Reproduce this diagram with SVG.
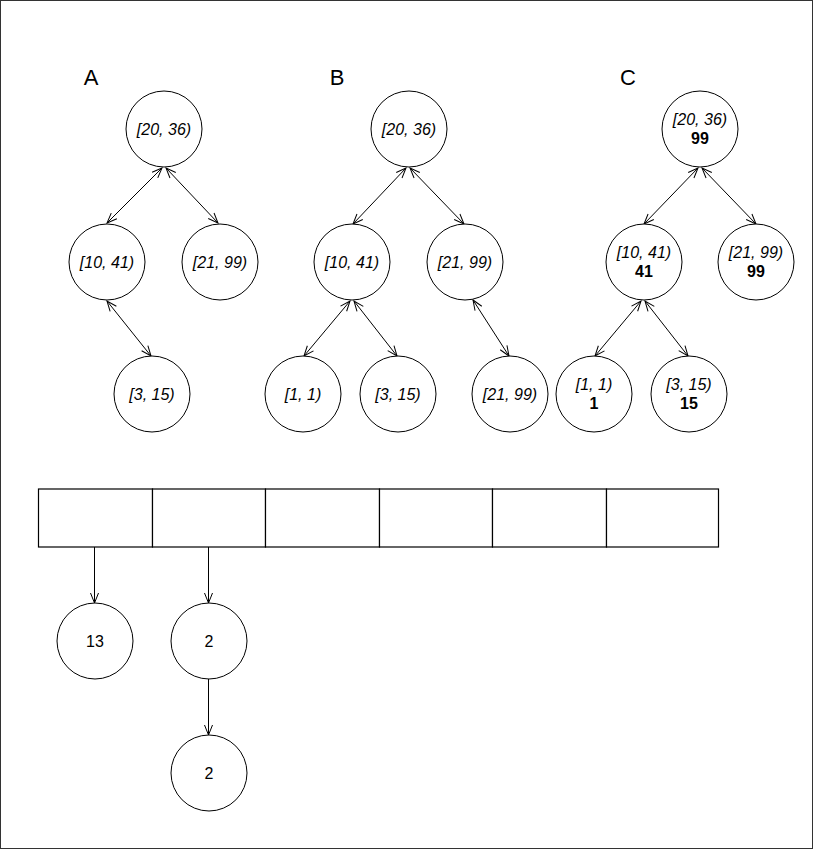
<svg xmlns="http://www.w3.org/2000/svg" width="814" height="849" viewBox="0 0 814 849">
  <style>
    .node { fill: #fff; stroke: #000; stroke-width: 1; }
    .iv { font-family: "Liberation Sans", Arial, sans-serif; font-style: italic; font-size: 16px; text-anchor: middle; fill: #000; }
    .bv { font-family: "Liberation Sans", Arial, sans-serif; font-weight: bold; font-size: 16px; text-anchor: middle; fill: #000; }
    .nv { font-family: "Liberation Sans", Arial, sans-serif; font-size: 16px; text-anchor: middle; fill: #000; }
    .title { font-family: "Liberation Sans", Arial, sans-serif; font-size: 22px; text-anchor: middle; fill: #000; }
    .link { stroke: #000; stroke-width: 1; fill: none; }
    .bi { marker-start: url(#arrow); marker-end: url(#arrow); }
    .uni { marker-end: url(#arrow); }
    .cell { fill: #fff; stroke: #000; stroke-width: 1.2; }
  </style>
  <defs>
    <marker id="arrow" viewBox="0 0 12 10" refX="11" refY="5" markerWidth="12" markerHeight="10" markerUnits="userSpaceOnUse" orient="auto-start-reverse">
      <path d="M1,1 L11,5 L1,9" fill="none" stroke="#000" stroke-width="1"/>
    </marker>
  </defs>

  <!-- frame -->
  <rect x="0.5" y="0.5" width="812" height="848" fill="#fff" stroke="#333" stroke-width="1"/>

  <!-- section titles -->
  <text class="title" x="91" y="85">A</text>
  <text class="title" x="337" y="85">B</text>
  <text class="title" x="628" y="85">C</text>

  <!-- connectors -->
  <g id="connectors">
    <!-- tree A -->
    <line class="link bi" x1="162" y1="168" x2="107" y2="223"/>
    <line class="link bi" x1="166" y1="168" x2="218" y2="223"/>
    <line class="link bi" x1="107" y1="301" x2="151" y2="356"/>
    <!-- tree B -->
    <line class="link bi" x1="406" y1="168" x2="353" y2="224"/>
    <line class="link bi" x1="410" y1="168" x2="464" y2="224"/>
    <line class="link bi" x1="350" y1="301" x2="304" y2="356"/>
    <line class="link bi" x1="354" y1="301" x2="397" y2="356"/>
    <line class="link bi" x1="473" y1="300" x2="509" y2="356"/>
    <!-- tree C -->
    <line class="link bi" x1="698" y1="168" x2="644" y2="224"/>
    <line class="link bi" x1="702" y1="168" x2="756" y2="224"/>
    <line class="link bi" x1="641" y1="301" x2="595" y2="356"/>
    <line class="link bi" x1="645" y1="301" x2="688" y2="356"/>
    <!-- array buckets -->
    <line class="link uni" x1="94.5" y1="547" x2="94.5" y2="603"/>
    <line class="link uni" x1="208.5" y1="547" x2="208.5" y2="603"/>
    <line class="link uni" x1="208.5" y1="679" x2="208.5" y2="735"/>
  </g>

  <!-- tree A -->
  <g id="a-root"><circle class="node" cx="164" cy="129" r="38"/><text class="iv" x="164" y="135">[20, 36)</text></g>
  <g id="a-left"><circle class="node" cx="107" cy="262" r="38"/><text class="iv" x="107" y="268">[10, 41)</text></g>
  <g id="a-right"><circle class="node" cx="220" cy="262" r="38"/><text class="iv" x="220" y="268">[21, 99)</text></g>
  <g id="a-left-right"><circle class="node" cx="152" cy="394" r="38"/><text class="iv" x="152" y="400">[3, 15)</text></g>

  <!-- tree B -->
  <g id="b-root"><circle class="node" cx="409" cy="129" r="38"/><text class="iv" x="409" y="135">[20, 36)</text></g>
  <g id="b-left"><circle class="node" cx="352" cy="262" r="38"/><text class="iv" x="352" y="268">[10, 41)</text></g>
  <g id="b-right"><circle class="node" cx="465" cy="262" r="38"/><text class="iv" x="465" y="268">[21, 99)</text></g>
  <g id="b-left-left"><circle class="node" cx="303" cy="394" r="38"/><text class="iv" x="303" y="400">[1, 1)</text></g>
  <g id="b-left-right"><circle class="node" cx="398" cy="394" r="38"/><text class="iv" x="398" y="400">[3, 15)</text></g>
  <g id="b-right-right"><circle class="node" cx="510" cy="394" r="38"/><text class="iv" x="510" y="400">[21, 99)</text></g>

  <!-- tree C (with subtree max) -->
  <g id="c-root"><circle class="node" cx="700" cy="129" r="38"/><text class="iv" x="700" y="125">[20, 36)</text><text class="bv" x="700" y="144">99</text></g>
  <g id="c-left"><circle class="node" cx="644" cy="262" r="38"/><text class="iv" x="644" y="258">[10, 41)</text><text class="bv" x="644" y="277">41</text></g>
  <g id="c-right"><circle class="node" cx="756" cy="262" r="38"/><text class="iv" x="756" y="258">[21, 99)</text><text class="bv" x="756" y="277">99</text></g>
  <g id="c-left-left"><circle class="node" cx="594" cy="394" r="38"/><text class="iv" x="594" y="390">[1, 1)</text><text class="bv" x="594" y="409">1</text></g>
  <g id="c-left-right"><circle class="node" cx="689" cy="394" r="38"/><text class="iv" x="689" y="390">[3, 15)</text><text class="bv" x="689" y="409">15</text></g>

  <!-- bucket array -->
  <g id="array">
    <rect class="cell" x="38.5" y="489" width="114" height="58"/>
    <rect class="cell" x="152.5" y="489" width="113" height="58"/>
    <rect class="cell" x="265.5" y="489" width="114" height="58"/>
    <rect class="cell" x="379.5" y="489" width="113" height="58"/>
    <rect class="cell" x="492.5" y="489" width="114" height="58"/>
    <rect class="cell" x="606.5" y="489" width="112" height="58"/>
  </g>

  <!-- bucket chains -->
  <g id="n13"><circle class="node" cx="95" cy="641" r="38"/><text class="nv" x="95" y="647">13</text></g>
  <g id="n2a"><circle class="node" cx="209" cy="641" r="38"/><text class="nv" x="209" y="647">2</text></g>
  <g id="n2b"><circle class="node" cx="209" cy="773" r="38"/><text class="nv" x="209" y="779">2</text></g>
</svg>
